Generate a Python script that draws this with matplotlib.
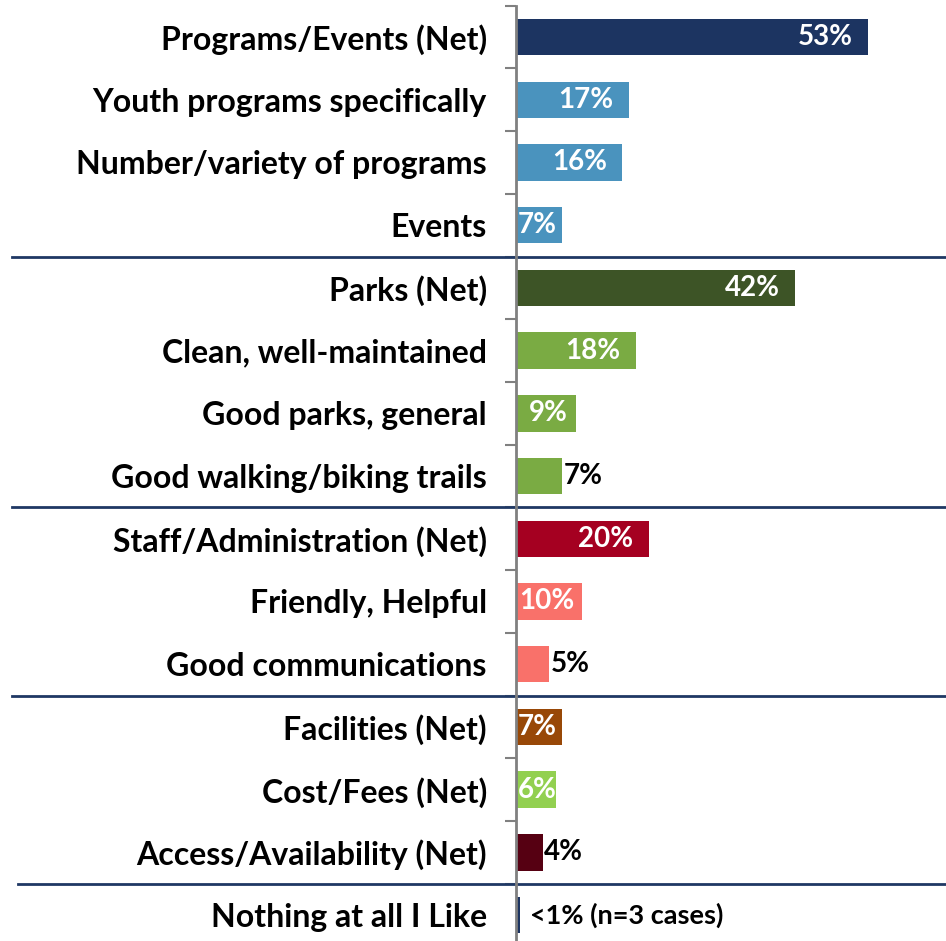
import matplotlib
matplotlib.use('Agg')
import matplotlib.pyplot as plt
import matplotlib.transforms as mtransforms

plt.rcParams['font.family'] = ['Lato', 'DejaVu Sans']

labels = ['Programs/Events (Net)', 'Youth programs specifically', 'Number/variety of programs',
          'Events', 'Parks (Net)', 'Clean, well-maintained', 'Good parks, general',
          'Good walking/biking trails', 'Staff/Administration (Net)', 'Friendly, Helpful',
          'Good communications', 'Facilities (Net)', 'Cost/Fees (Net)',
          'Access/Availability (Net)', 'Nothing at all I Like']
values = [53, 17, 16, 7, 42, 18, 9, 7, 20, 10, 5, 7, 6, 4, 0.6]
value_text = ['53%', '17%', '16%', '7%', '42%', '18%', '9%', '7%', '20%', '10%', '5%',
              '7%', '6%', '4%', '<1% (n=3 cases)']
inside = [True, True, True, True, True, True, True, False, True, True, False,
          True, True, False, False]
colors = ['#1C3461', '#4A93BE', '#4A93BE', '#4A93BE', '#3D5426', '#7AAB43', '#7AAB43',
          '#7AAB43', '#A50021', '#F9716A', '#F9716A', '#984807', '#92D050', '#560012',
          '#1C3461']
group_breaks = [3.5, 7.5, 10.5, 13.5]

fig = plt.figure(figsize=(9.46, 9.41), dpi=100)
ax = fig.add_axes([516 / 946, -0.0058, 1 - 516 / 946, 0.9998])

y = list(range(len(labels)))
ax.barh(y, values, height=0.58, color=colors)
ax.set_xlim(0, 430 / 6.64)
ax.set_ylim(len(labels) - 0.5, -0.5)

for i, (v, t, ins) in enumerate(zip(values, value_text, inside)):
    if i == len(labels) - 1:
        ax.text(v + 1.5, i, t, ha='left', va='center', fontsize=19.5, fontweight='bold', color='black')
    elif ins and v < 8:
        ax.text(0.3, i, t, ha='left', va='center', fontsize=20, fontweight='bold', color='white')
    elif ins:
        pad = 1.2 if v <= 10 else 2.3
        ax.text(v - pad, i, t, ha='right', va='center', fontsize=20, fontweight='bold', color='white')
    else:
        ax.text(v + 0.2, i, t, ha='left', va='center', fontsize=20, fontweight='bold', color='black')

ax.set_yticks(y)
ax.set_yticklabels(labels, fontsize=23, fontweight='bold')
ax.tick_params(axis='y', length=0, pad=21)
ax.set_yticks([i + 0.5 for i in range(-1, len(labels))], minor=True)
ax.tick_params(axis='y', which='minor', length=8, width=1.5, color='#808080', direction='out')
ax.set_xticks([])

for s in ['top', 'right', 'bottom']:
    ax.spines[s].set_visible(False)
ax.spines['left'].set_color('#808080')
ax.spines['left'].set_linewidth(2)

trans = mtransforms.blended_transform_factory(fig.transFigure, ax.transData)
for k, b in enumerate(group_breaks):
    x0 = 0.019 if k == len(group_breaks) - 1 else 0.013
    ax.plot([x0, 1.0], [b, b], transform=trans, color='#1F3864', linewidth=2, clip_on=False)

fig.savefig('out.png', dpi=100)
